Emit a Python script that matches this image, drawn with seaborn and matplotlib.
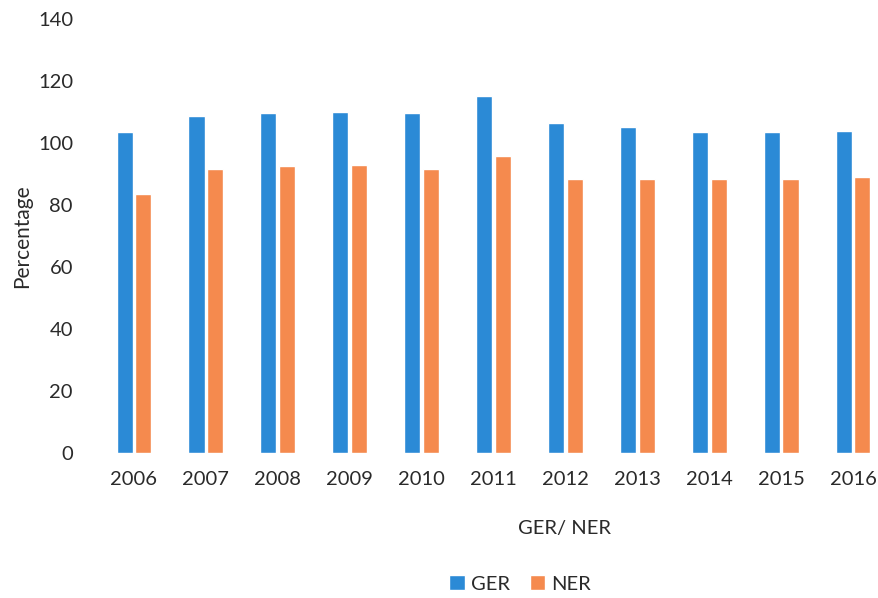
import matplotlib
matplotlib.use("Agg")
import matplotlib.pyplot as plt
import seaborn as sns
import pandas as pd

years = ["2006", "2007", "2008", "2009", "2010", "2011",
         "2012", "2013", "2014", "2015", "2016"]
ger = [103.6, 108.8, 109.7, 110.0, 109.8, 115.1, 106.5, 105.1, 103.6, 103.6, 104.0]
ner = [83.4, 91.6, 92.5, 92.8, 91.5, 95.7, 88.3, 88.3, 88.3, 88.4, 88.9]
series = ["GER", "NER"]
colors = ["#2b8ad6", "#f58a4e"]
y_ticks = [0, 20, 40, 60, 80, 100, 120, 140]

df = pd.DataFrame({
    "Year": years * 2,
    "Rate": ger + ner,
    "Series": [series[0]] * len(years) + [series[1]] * len(years),
})

sns.set_theme(style="white")
plt.rcParams["font.family"] = ["Lato", "DejaVu Sans"]
text_color = "#2a2a2a"
fs = 14.5

fig = plt.figure(figsize=(8.79, 5.98), dpi=100)
ax = fig.add_axes([98 / 879, 145 / 598, 791 / 879, 434 / 598])

sns.barplot(data=df, x="Year", y="Rate", hue="Series", order=years,
            hue_order=series, palette=colors, width=0.52, gap=0.14,
            saturation=1, ax=ax, legend=True)

ax.set_ylim(0, 140)
ax.set_xlim(-0.5, 10.5)
ax.set_yticks(y_ticks)
ax.set_yticklabels([str(t) for t in y_ticks])
for s in ax.spines.values():
    s.set_visible(False)
ax.grid(False)
ax.tick_params(axis="both", length=0, labelsize=fs, colors=text_color)
ax.tick_params(axis="y", pad=18)
ax.tick_params(axis="x", pad=13)

ax.set_ylabel("Percentage", fontsize=fs + 0.5, color=text_color)
ax.yaxis.set_label_coords((32 - 98) / 791, 0.5)
ax.set_xlabel("GER/ NER", fontsize=fs, color=text_color)
ax.xaxis.set_label_coords((565 - 98) / 791, -0.155)

handles, labels = ax.get_legend_handles_labels()
ax.get_legend().remove()
fig.legend(handles, labels, loc="center", bbox_to_anchor=(520 / 879, 14 / 598),
           ncol=2, frameon=False, fontsize=fs, handlelength=0.75,
           handleheight=0.75, handletextpad=0.3, columnspacing=1.0,
           labelcolor=text_color)

fig.savefig("out.png", dpi=100)
